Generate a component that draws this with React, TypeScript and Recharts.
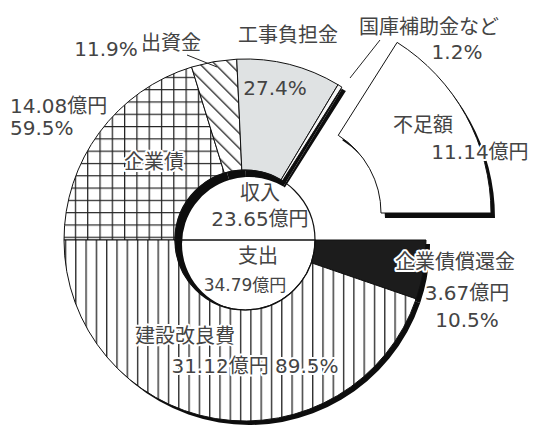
import React from 'react';
import { PieChart, Pie, Cell } from 'recharts';

// 収入 (top half, left → right) : 億円
const incomeNames = ['企業債', '出資金', '工事負担金', '国庫補助金など', '不足額'];
const incomeValues = [14.08, 2.81, 6.48, 0.28, 11.14];
const incomePct = ['59.5%', '11.9%', '27.4%', '1.2%', ''];
// 支出 (bottom half, right → left) : 億円
const expenseNames = ['企業債償還金', '建設改良費'];
const expenseValues = [3.67, 31.12];
const expensePct = ['10.5%', '89.5%'];
const totalLabels = ['収入', '支出'];
const totalValues = [23.65, 34.79];

const data = [
  ...incomeNames.map((name, i) => ({ name, value: incomeValues[i], group: 'in' })),
  ...expenseNames.map((name, i) => ({ name, value: expenseValues[i], group: 'out' })),
];
const halves = [
  { name: totalLabels[0], value: incomeValues.reduce((a, b) => a + b, 0) },
  { name: totalLabels[1], value: expenseValues.reduce((a, b) => a + b, 0) },
];

const fills: Record<string, string> = {
  企業債: 'url(#grid)',
  出資金: 'url(#diag)',
  工事負担金: '#dfe2e3',
  国庫補助金など: '#f6f6f6',
  不足額: 'none',
  企業債償還金: '#1c1c1c',
  建設改良費: 'url(#vstripes)',
};

const FONT = '"DejaVu Sans", "Noto Sans CJK JP", sans-serif';
const TXT = '#444';

const T = ({ x, y, children, size = 20, halo = false, anchor = 'middle' }: any) => (
  <text
    x={x}
    y={y}
    textAnchor={anchor}
    dominantBaseline="central"
    fontFamily={FONT}
    fontSize={size}
    fill={TXT}
    stroke={halo ? '#fff' : 'none'}
    strokeWidth={halo ? 4 : 0}
    strokeLinejoin="round"
    style={{ paintOrder: 'stroke' }}
  >
    {children}
  </text>
);

const CX = 245;
const CY = 240;
const R_IN = 70;
const R_OUT = 181;
const EX_CX = 289;
const EX_CY = 213;
const EX_IN = 92;
const EX_OUT = 202;
const SH = 4;

export default function App() {
  return (
    <div style={{ position: 'absolute', left: 0, top: 0, width: 556, height: 430, background: '#fff' }}>
      <PieChart width={556} height={430} margin={{ top: 0, right: 0, bottom: 0, left: 0 }}>
        <defs>
          <pattern id="grid" patternUnits="userSpaceOnUse" width={12.3} height={12.3} x={1} y={3}>
            <rect width={12.3} height={12.3} fill="#fff" />
            <path d="M0 0.6 H12.3 M0.6 0 V12.3" stroke="#222" strokeWidth={1.3} />
          </pattern>
          <pattern id="diag" patternUnits="userSpaceOnUse" width={10.6} height={10.6} patternTransform="rotate(-45)">
            <rect width={10.6} height={10.6} fill="#fff" />
            <path d="M0.7 0 V10.6" stroke="#222" strokeWidth={1.3} />
          </pattern>
          <pattern id="vstripes" patternUnits="userSpaceOnUse" width={10.3} height={10} x={3}>
            <rect width={10.3} height={10} fill="#fff" />
            <path d="M0.7 0 V10" stroke="#222" strokeWidth={1.3} />
          </pattern>
        </defs>

        {/* shadow of main ring */}
        <Pie
          data={data}
          dataKey="value"
          cx={CX + SH}
          cy={CY + SH}
          innerRadius={R_IN - 3}
          outerRadius={R_OUT}
          startAngle={180}
          endAngle={-180}
          isAnimationActive={false}
          stroke="none"
        >
          {data.map((d) => (
            <Cell key={d.name} fill={d.name === '不足額' ? 'none' : '#0d0d0d'} stroke="none" />
          ))}
        </Pie>
        {/* shadow of exploded slice */}
        <Pie
          data={data}
          dataKey="value"
          cx={EX_CX + SH}
          cy={EX_CY + 5}
          innerRadius={EX_IN}
          outerRadius={EX_OUT}
          startAngle={180}
          endAngle={-180}
          isAnimationActive={false}
          stroke="none"
        >
          {data.map((d) => (
            <Cell key={d.name} fill={d.name === '不足額' ? '#0d0d0d' : 'none'} stroke="none" />
          ))}
        </Pie>

        {/* main ring */}
        <Pie
          data={data}
          dataKey="value"
          cx={CX}
          cy={CY}
          innerRadius={R_IN}
          outerRadius={R_OUT}
          startAngle={180}
          endAngle={-180}
          isAnimationActive={false}
        >
          {data.map((d) => (
            <Cell
              key={d.name}
              fill={fills[d.name]}
              stroke={d.name === '不足額' ? 'none' : '#111'}
              strokeWidth={1}
            />
          ))}
        </Pie>

        {/* exploded 不足額 */}
        <Pie
          data={data}
          dataKey="value"
          cx={EX_CX}
          cy={EX_CY}
          innerRadius={EX_IN}
          outerRadius={EX_OUT}
          startAngle={180}
          endAngle={-180}
          isAnimationActive={false}
        >
          {data.map((d) => (
            <Cell
              key={d.name}
              fill={d.name === '不足額' ? '#fff' : 'none'}
              stroke={d.name === '不足額' ? '#111' : 'none'}
              strokeWidth={1}
            />
          ))}
        </Pie>

        {/* centre circle with 収入 / 支出 divider */}
        <Pie
          data={halves}
          dataKey="value"
          cx={CX}
          cy={CY}
          innerRadius={0}
          outerRadius={R_IN}
          startAngle={180}
          endAngle={-180}
          isAnimationActive={false}
        >
          {halves.map((h) => (
            <Cell key={h.name} fill="none" stroke="#111" strokeWidth={1.2} />
          ))}
        </Pie>
      </PieChart>

      <svg
        width={556}
        height={430}
        style={{ position: 'absolute', left: 0, top: 0, pointerEvents: 'none' }}
      >
        {/* leader lines */}
        <line x1={187} y1={55} x2={217} y2={67} stroke="#222" strokeWidth={1} />
        <line x1={350} y1={78} x2={380} y2={40} stroke="#222" strokeWidth={1} />

        {/* labels */}
        <T x={106} y={49}>{incomePct[1]}</T>
        <T x={171} y={43}>{incomeNames[1]}</T>
        <T x={288} y={35}>{incomeNames[2]}</T>
        <T x={429} y={27}>{incomeNames[3]}</T>
        <T x={457} y={52}>{incomePct[3]}</T>
        <T x={275} y={88}>{incomePct[2]}</T>
        <T x={10} y={106} anchor="start">{`${incomeValues[0].toFixed(2)}億円`}</T>
        <T x={10} y={128} anchor="start">{incomePct[0]}</T>
        <T x={154} y={162} halo>{incomeNames[0]}</T>
        <T x={423} y={125}>{incomeNames[4]}</T>
        <T x={480} y={152} halo>{`${incomeValues[4].toFixed(2)}億円`}</T>

        <T x={260} y={193}>{totalLabels[0]}</T>
        <T x={260} y={219}>{`${totalValues[0].toFixed(2)}億円`}</T>
        <T x={258} y={256}>{totalLabels[1]}</T>
        <T x={245} y={285} size={17}>{`${totalValues[1].toFixed(2)}億円`}</T>

        <T x={455} y={262} halo>{expenseNames[0]}</T>
        <T x={467} y={293}>{`${expenseValues[0].toFixed(2)}億円`}</T>
        <T x={467} y={320}>{expensePct[0]}</T>
        <T x={185} y={336} halo>{expenseNames[1]}</T>
        <T x={255} y={366} halo>{`${expenseValues[1].toFixed(2)}億円 ${expensePct[1]}`}</T>
      </svg>
    </div>
  );
}
